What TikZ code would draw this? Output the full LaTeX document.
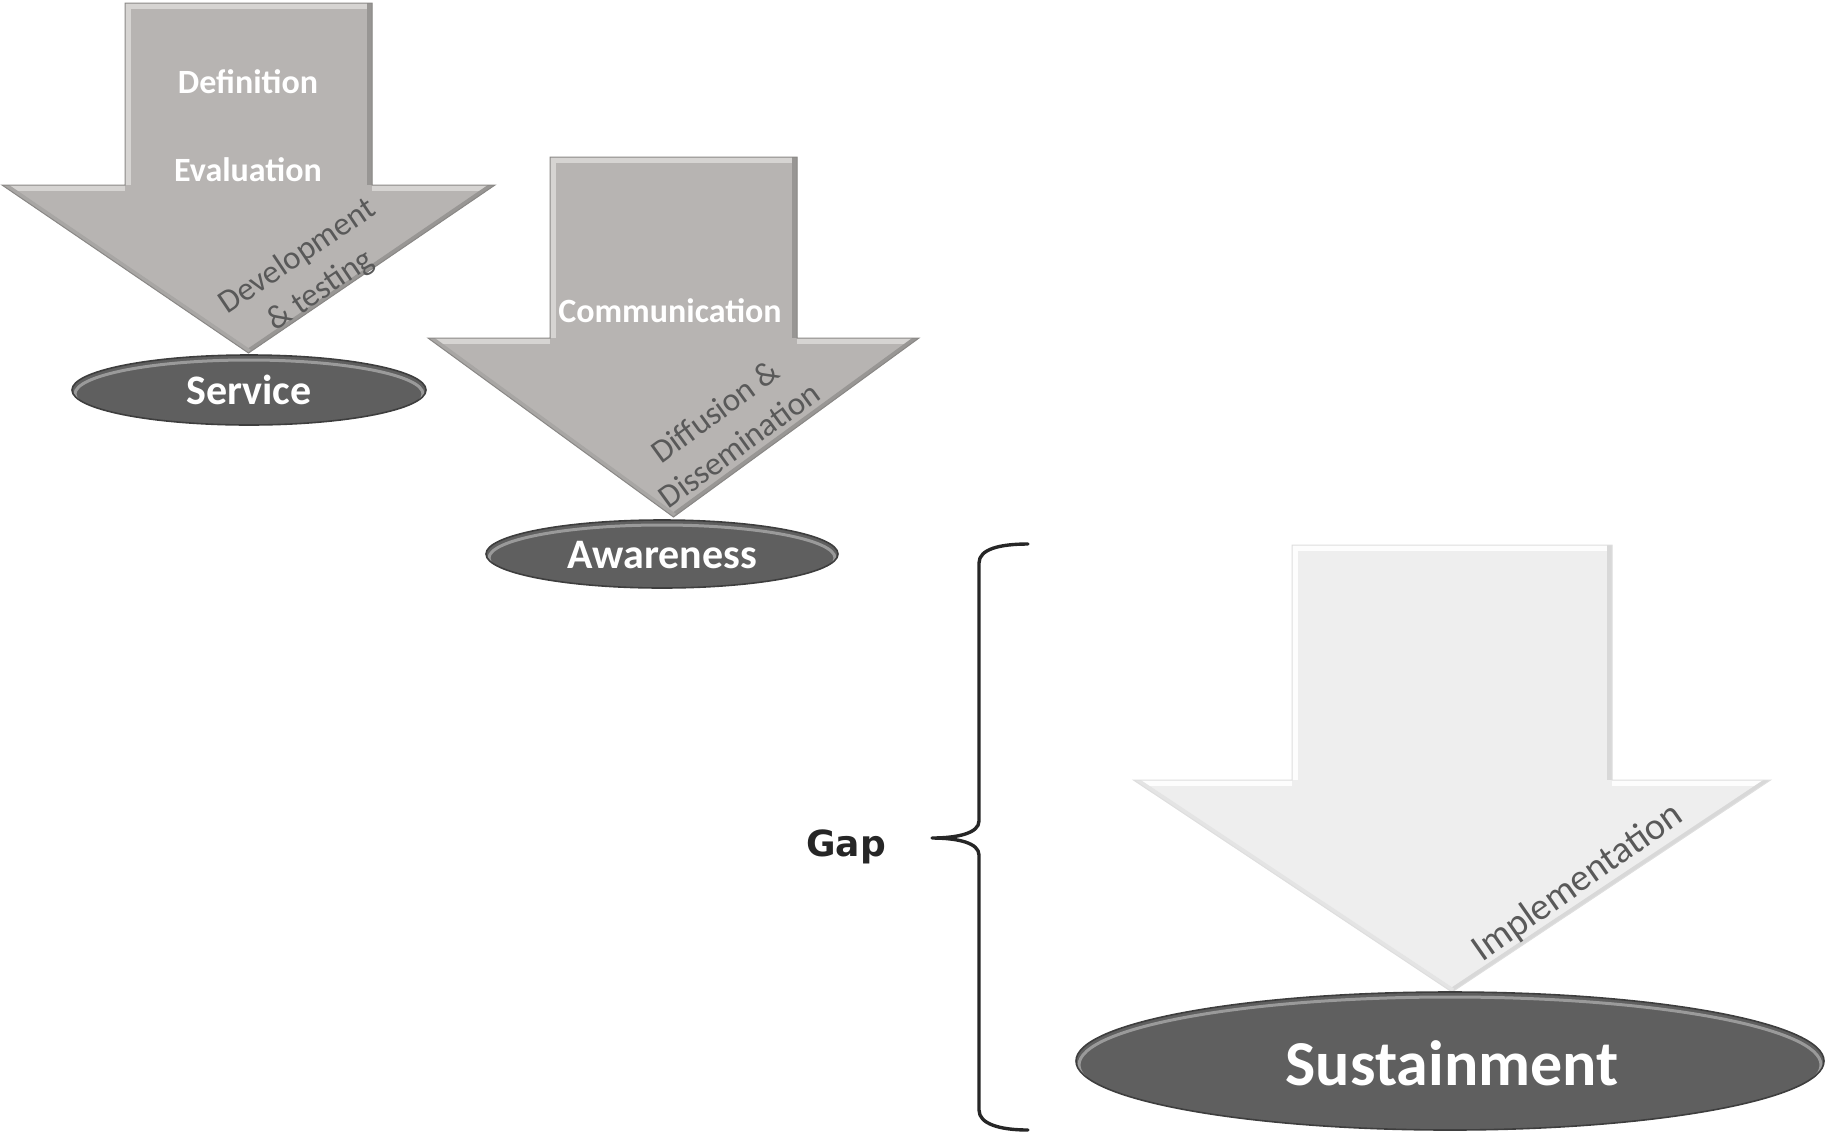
\documentclass[tikz,border=0pt]{standalone}
\usepackage{fontspec}
\setmainfont{Carlito}
\newfontfamily\gapfont{DejaVu Sans}
\definecolor{Afill}{HTML}{B7B4B2}
\definecolor{Alight}{HTML}{D6D4D2}
\definecolor{Adark}{HTML}{989694}
\definecolor{Amid}{HTML}{A8A6A4}
\definecolor{Aedge}{HTML}{8A8886}
\definecolor{Bfill}{HTML}{EEEEEE}
\definecolor{Blight}{HTML}{FDFDFD}
\definecolor{Bdark}{HTML}{D8D8D8}
\definecolor{Bmid}{HTML}{E4E4E4}
\definecolor{Bedge}{HTML}{DEDEDE}
\definecolor{ovalfill}{HTML}{5F5F5F}
\definecolor{ovalrim}{HTML}{9A9A9A}
\definecolor{ovaledge}{HTML}{3E3E3E}
\definecolor{diagtext}{HTML}{595959}
\definecolor{bracecol}{HTML}{262626}

% a bevelled down arrow: colour set, centre x, top y, shaft half width,
% shoulder y, head half width, tip y
\newcommand{\arrowoutline}[6]{({#1-#3},#2) -- ({#1+#3},#2) -- ({#1+#3},#4) -- ({#1+#5},#4) -- (#1,#6) -- ({#1-#5},#4) -- ({#1-#3},#4) -- cycle}
\newcommand{\bevelarrow}[7]{%
  \fill[#1fill] \arrowoutline{#2}{#3}{#4}{#5}{#6}{#7};
  \begin{scope}
    \clip \arrowoutline{#2}{#3}{#4}{#5}{#6}{#7};
    \draw[#1light, line width=12bp] ({#2-#4},#5) -- ({#2-#4},#3) -- ({#2+#4},#3);
    \draw[#1light, line width=12bp] ({#2-#6},#5) -- ({#2-#4},#5);
    \draw[#1light, line width=12bp] ({#2+#4},#5) -- ({#2+#6},#5);
    \draw[#1dark, line width=10bp] ({#2+#4},#3) -- ({#2+#4},#5);
    \draw[#1dark, line width=8bp] ({#2+#6},#5) -- (#2,#7);
    \draw[#1mid, line width=8bp] (#2,#7) -- ({#2-#6},#5);
  \end{scope}
  \draw[#1edge, line width=1bp] \arrowoutline{#2}{#3}{#4}{#5}{#6}{#7};
}
% a dark bevelled oval: centre x, centre y, x radius, y radius
\newcommand{\beveloval}[4]{%
  \fill[ovalfill] (#1,#2) ellipse [x radius=#3bp, y radius=#4bp];
  \begin{scope}
    \clip (#1,#2) ellipse [x radius=#3bp, y radius=#4bp];
    \draw[ovalrim, line width=3bp] (#1,{#2+4}) ellipse [x radius={(#3-3)*1bp}, y radius={(#4-1)*1bp}];
  \end{scope}
  \draw[ovaledge, line width=1.6bp] (#1,#2) ellipse [x radius=#3bp, y radius=#4bp];
}

\tikzset{
  title/.style={text=white, inner sep=0pt, font=\fontsize{34bp}{40bp}\selectfont\bfseries},
  ovaltext/.style={text=white, inner sep=0pt, font=\fontsize{42bp}{48bp}\selectfont\bfseries},
  slant/.style={text=diagtext, align=center, inner sep=0pt, font=\fontsize{33bp}{41bp}\selectfont},
  gaplabel/.style={text=bracecol, inner sep=0pt, font=\fontsize{36bp}{42bp}\selectfont\gapfont\bfseries},
}

\begin{document}
\begin{tikzpicture}[x=1bp,y=-1bp]
\useasboundingbox (0,0) rectangle (1826,1132);

% development stage
\bevelarrow{A}{248.5}{3}{123.5}{185}{246.5}{353}
\beveloval{249}{390}{177}{35}
\node[title] (definition) at (248,82) {Definition};
\node[title] (evaluation) at (248,170) {Evaluation};
\node[slant, rotate=34] (devtest) at (309,274) {Development\\\& testing};
\node[ovaltext] (service) at (249,390) {Service};

% communication stage
\bevelarrow{A}{673.5}{157}{123.5}{338}{245.5}{517}
\beveloval{662}{554}{176}{34}
\node[title] (communication) at (670,311) {Communication};
\node[slant, rotate=36] (diffusion) at (727,428) {Diffusion \&\\Dissemination};
\node[ovaltext] (awareness) at (662,555) {Awareness};

% implementation stage
\bevelarrow{B}{1452}{545}{160}{780}{318.5}{992}
\beveloval{1450}{1061}{374}{69}
\node[slant, rotate=35, font=\fontsize{38bp}{44bp}\selectfont] (implementation) at (1578,883) {Implementation};
\node[ovaltext, font=\fontsize{64bp}{70bp}\selectfont\bfseries] (sustainment) at (1452,1063) {Sustainment};

% the gap brace
\draw[bracecol, line width=3.4bp, line cap=round, line join=round]
  (1028,544) .. controls (1000,544) and (979,549) .. (979,563)
  -- (979,821) .. controls (979,833) and (958,838) .. (932,838)
  .. controls (958,838) and (979,843) .. (979,855)
  -- (979,1110) .. controls (979,1124) and (1000,1130) .. (1028,1130);
\coordinate (bracetip) at (932,838);
\node[gaplabel, anchor=center] (gap) at (846,847) {Gap};
\end{tikzpicture}
\end{document}
